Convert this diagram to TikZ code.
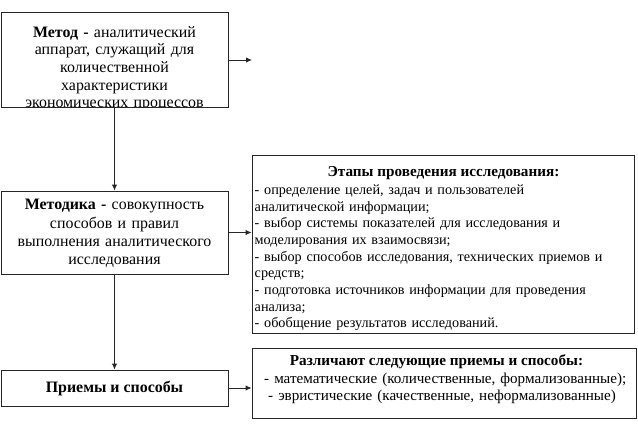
\documentclass[tikz,border=0pt]{standalone}
\usepackage{fontspec}
\setmainfont{Liberation Serif}
\usetikzlibrary{arrows.meta}
\begin{document}
\begin{tikzpicture}[x=1pt,y=-1pt,
  box/.style={draw=black!85,line width=0.9pt,inner sep=0pt},
  arr/.style={draw=black!85,line width=0.9pt,-{Latex[length=6pt,width=5.5pt]}},
  ltext/.style={font=\fontsize{15.9pt}{17.7pt}\selectfont,align=center,text width=226pt,inner sep=0pt},
  rtext/.style={font=\fontsize{14.2pt}{16.67pt}\selectfont,align=left,text width=378pt,inner sep=0pt,anchor=north west},
  rhead/.style={font=\fontsize{15.2pt}{17pt}\selectfont\bfseries,inner sep=0pt}]
\useasboundingbox (0,0) rectangle (638,444);
% box 1
\node[box,minimum width=227pt,minimum height=95pt] (m1) at (114.5,59.5) {};
\begin{scope}
\clip (1,12) rectangle (228,107);
\node[ltext,anchor=north] (m1t) at (114.5,26) {\textbf{Метод -} аналитический\\аппарат, служащий для\\количественной\\характеристики\\экономических процессов};
\end{scope}
\coordinate (e1) at (252,60);
\draw[arr] (m1.east |- e1) -- (e1);
% box 2
\node[box,minimum width=227pt,minimum height=83pt] (m2) at (114.5,232.5) {};
\node[ltext,font=\fontsize{15.9pt}{18.3pt}\selectfont] (m2t) at (114.5,233.5) {\textbf{Методика -} совокупность\\способов и правил\\выполнения аналитического\\исследования};
\draw[arr] (m1.south) -- (m2.north);
% box 3
\node[box,minimum width=227pt,minimum height=36pt,font=\fontsize{15.9pt}{17.7pt}\selectfont\bfseries] (m3) at (114.5,388) {\raisebox{-1pt}{Приемы и способы}};
\draw[arr] (m2.south) -- (m3.north);
% big box
\node[box,minimum width=382pt,minimum height=178pt] (st) at (443,244) {};
\node[rhead] (sth) at (443.5,173) {Этапы проведения исследования:};
\node[rtext] (stt) at (254.5,184.5) {- определение целей, задач и пользователей\\аналитической информации;\\- выбор системы показателей для исследования и\\моделирования их взаимосвязи;\\- выбор способов исследования, технических приемов и\\средств;\\- подготовка источников информации для проведения\\анализа;\\- обобщение результатов исследований.};
\draw[arr] (m2.east) -- (m2.east -| st.west);
% box 4
\node[box,minimum width=384pt,minimum height=70pt] (pr) at (444,383) {};
\node[rhead] (prh) at (436.5,362) {Различают следующие приемы и способы:};
\node[rtext,font=\fontsize{15.1pt}{17pt}\selectfont] (prt) at (264,372.5) {- математические (количественные, формализованные);\\\hspace*{4pt}- эвристические (качественные, неформализованные)};
\draw[arr] (m3.east) -- (m3.east -| pr.west);
\end{tikzpicture}
\end{document}
